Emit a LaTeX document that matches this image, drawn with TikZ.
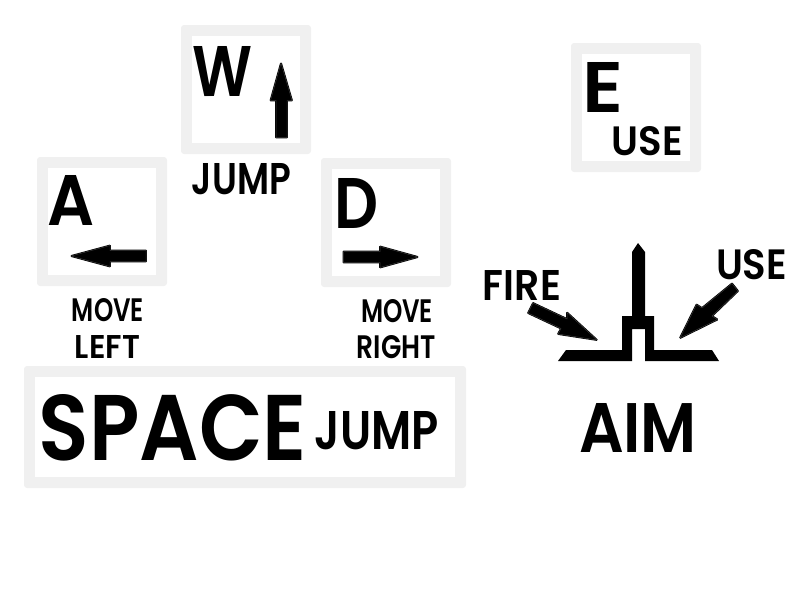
\documentclass[tikz,border=0pt]{standalone}
\usepackage{fontspec}
\setmainfont{Poppins SemiBold}
\definecolor{keygrey}{HTML}{F0F0F0}
\definecolor{arrowedge}{HTML}{3A3A3A}
\tikzset{
  keyframe/.style={fill=keygrey,rounded corners=3},
  keyface/.style={fill=white},
  arrowshape/.style={fill=black,draw=arrowedge,line width=0.5,line join=bevel,
    preaction={draw=black,line width=1.8,line join=bevel}},
  solidshape/.style={fill=black},
  lab/.style={inner sep=0,outer sep=0,text=black}
}
% name, x1, y1, x2, y2, text : fits the text to the box given in pixels
\newcommand{\fitlab}[6]{%
  \pgfmathsetlengthmacro{\fitw}{#4-#2}%
  \pgfmathsetlengthmacro{\fith}{#5-#3}%
  \node[lab] (#1) at ({(#2+#4)/2},{(#3+#5)/2}) {\resizebox{\fitw}{\fith}{#6}};%
}
\begin{document}
\begin{tikzpicture}[x=1pt,y=-1pt]
\useasboundingbox (0,0) rectangle (800,600);
% keys
\fill[keyframe] (181,25) rectangle (311,154);
\fill[keyface] (192,36) rectangle (300,143);
\fill[keyframe] (37,157) rectangle (167,286);
\fill[keyface] (48,168) rectangle (156,275);
\fill[keyframe] (321,158) rectangle (451,287);
\fill[keyface] (332,169) rectangle (440,276);
\fill[keyframe] (571,43) rectangle (701,172);
\fill[keyface] (582,54) rectangle (690,161);
\fill[keyframe] (24,366) rectangle (466,488);
\fill[keyface] (35,377) rectangle (455,477);
% arrows
\draw[arrowshape] (281,63) -- (292,100.5) -- (287,100.5) -- (287,137.5) -- (276,137.5) -- (276,100.5) -- (270.5,100.5) -- cycle;
\draw[arrowshape] (71,256) -- (110,245.5) -- (110,250.5) -- (146,250.5) -- (146,261.5) -- (110,261.5) -- (110,266.5) -- cycle;
\draw[arrowshape] (418,257) -- (380,246.5) -- (380,251.5) -- (343.5,251.5) -- (343.5,262.5) -- (380,262.5) -- (380,267.5) -- cycle;
\draw[arrowshape] (597,340) -- (558,334) -- (561,328.5) -- (528,313) -- (533,303) -- (567,319) -- (567,312.5) -- cycle;
\draw[arrowshape] (680,338) -- (696.5,304.5) -- (702,308) -- (732,283.5) -- (738,291) -- (712,316) -- (717.5,319.5) -- cycle;
% aim symbol
\fill[solidshape] (638,243) -- (645,252) -- (645,316) -- (654,316) -- (654,350) -- (712,350) -- (719,361) -- (645,361) -- (645,329) -- (632,329) -- (632,361) -- (558,361) -- (566,350) -- (622,350) -- (622,316) -- (632,316) -- (632,252) -- cycle;
% texts
\fitlab{w}{193}{47}{253}{97}{W}
\fitlab{a}{48}{175}{95}{225}{A}
\fitlab{d}{335}{178}{379}{228}{D}
\fitlab{e}{583}{62}{624}{112}{E}
\fitlab{euse}{612}{127}{683}{156}{USE}
\fitlab{wjump}{192}{164}{291}{195}{JUMP}
\fitlab{amove}{72}{299}{144}{322}{MOVE}
\fitlab{aleft}{75}{335}{140}{358}{LEFT}
\fitlab{dmove}{361}{300}{433}{323}{MOVE}
\fitlab{dright}{357}{336}{436}{359}{RIGHT}
\fitlab{space}{39}{395}{307}{461}{SPACE}
\fitlab{sjump}{315}{412}{439}{450}{JUMP}
\fitlab{fire}{483}{270}{561}{300}{FIRE}
\fitlab{muse}{716}{250}{787}{280}{USE}
\fitlab{aim}{579}{403}{697}{452}{AIM}
\end{tikzpicture}
\end{document}
